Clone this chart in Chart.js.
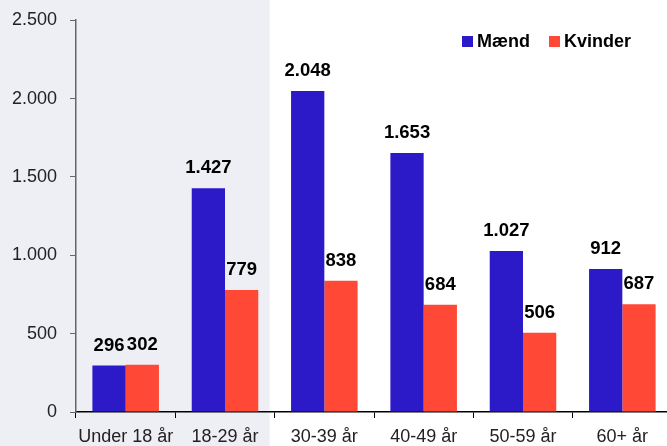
<!DOCTYPE html>
<html>
<head>
<meta charset="utf-8">
<script src="https://cdn.jsdelivr.net/npm/chart.js@4"></script>
<style>
  html, body { margin: 0; padding: 0; background: #fff; overflow: hidden; }
  #wrap { width: 672px; height: 446px; position: relative; }
</style>
</head>
<body>
<div id="wrap"><canvas id="chart"></canvas></div>
<script>
const categories = ["Under 18 år", "18-29 år", "30-39 år", "40-49 år", "50-59 år", "60+ år"];
const maend = [296, 1427, 2048, 1653, 1027, 912];
const kvinder = [302, 779, 838, 684, 506, 687];
const seriesNames = ["Mænd", "Kvinder"];
const colors = ["#2c1ac9", "#ff4936"];

const FONT = "'Liberation Sans', Arial, sans-serif";
const fmt = v => v.toLocaleString("da-DK");

// grey band behind the first two age groups
const shadePlugin = {
    id: "shade",
    beforeDraw(chart) {
        const x = chart.scales.x;
        const right = x.getPixelForValue(1) + (x.getPixelForValue(2) - x.getPixelForValue(1)) / 2 - 5;
        const ctx = chart.ctx;
        ctx.save();
        ctx.fillStyle = "#eeeff4";
        ctx.fillRect(0, 0, right, chart.height);
        ctx.restore();
    }
};

// value labels above bars + legend in the top right corner
const labelPlugin = {
    id: "valueLabels",
    afterDatasetsDraw(chart) {
        const ctx = chart.ctx;
        ctx.save();
        ctx.font = "bold 18.5px " + FONT;
        ctx.fillStyle = "#000";
        ctx.textAlign = "center";
        ctx.textBaseline = "alphabetic";
        chart.data.datasets.forEach((ds, i) => {
            chart.getDatasetMeta(i).data.forEach((bar, j) => {
                ctx.fillText(fmt(ds.data[j]), bar.x, bar.y - 15);
            });
        });

        // legend
        ctx.font = "bold 18px " + FONT;
        ctx.textAlign = "left";
        ctx.textBaseline = "middle";
        const starts = [462, 549];
        seriesNames.forEach((name, i) => {
            ctx.fillStyle = colors[i];
            ctx.fillRect(starts[i], 36, 11, 11);
            ctx.fillStyle = "#000";
            ctx.fillText(name, starts[i] + 15, 42);
        });
        ctx.restore();
    }
};

new Chart(document.getElementById("chart"), {
    type: "bar",
    data: {
        labels: categories,
        datasets: [
            { label: seriesNames[0], data: maend, backgroundColor: colors[0] },
            { label: seriesNames[1], data: kvinder, backgroundColor: colors[1] }
        ]
    },
    options: {
        responsive: true,
        maintainAspectRatio: false,
        animation: false,
        layout: { padding: 0 },
        datasets: { bar: { categoryPercentage: 0.67, barPercentage: 1 } },
        plugins: {
            tooltip: { enabled: false },
            legend: { display: false }
        },
        scales: {
            x: {
                afterFit: s => { s.height = 34; },
                grid: { drawOnChartArea: false, tickLength: 6, color: "#000", offset: true },
                border: { color: "#000", width: 1.5 },
                ticks: {
                    color: "#222",
                    padding: 8,
                    maxRotation: 0,
                    font: { family: FONT, size: 18 }
                }
            },
            y: {
                min: 0,
                max: 2500,
                afterFit: s => { s.width = 76; },
                grid: { drawOnChartArea: false, tickLength: 6, color: "#666" },
                border: { color: "#666", width: 1.5 },
                ticks: {
                    stepSize: 500,
                    color: "#222",
                    padding: 13,
                    callback: v => fmt(v),
                    font: { family: FONT, size: 18, lineHeight: 0.8 }
                }
            }
        }
    },
    plugins: [shadePlugin, labelPlugin]
});
</script>
</body>
</html>
